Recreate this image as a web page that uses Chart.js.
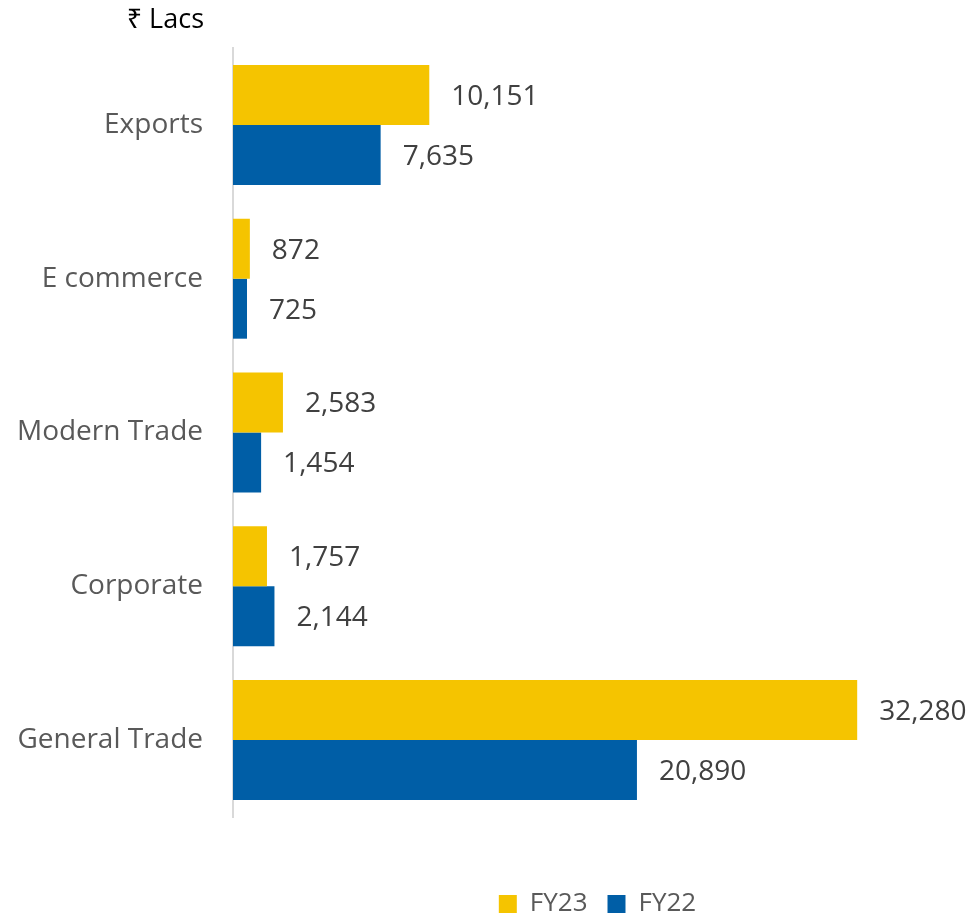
<!DOCTYPE html>
<html>
<head>
<meta charset="utf-8">
<script src="https://cdn.jsdelivr.net/npm/chart.js@4.4.0/dist/chart.umd.min.js"></script>
<style>
  body { margin: 0; background: #fff; }
  #wrap { width: 972px; height: 915px; position: relative; }
</style>
</head>
<body>
<div id="wrap"><canvas id="chart1"></canvas></div>
<script>
// channels, sales in Rs lacs
var channels = ["Exports", "E commerce", "Modern Trade", "Corporate", "General Trade"];
var fy23 = [10151, 872, 2583, 1757, 32280];
var fy22 = [7635, 725, 1454, 2144, 20890];
var unitLabel = "₹ Lacs";

var FONT = "'Open Sans', 'Noto Sans', sans-serif";

// value labels at the end of every bar
var valueLabels = {
    id: "valueLabels",
    afterDatasetsDraw: function(chart){
        var ctx = chart.ctx;
        ctx.save();
        ctx.font = "28px " + FONT;
        ctx.fillStyle = "#404040";
        ctx.textAlign = "left";
        ctx.textBaseline = "middle";
        chart.data.datasets.forEach(function(ds, i){
            var meta = chart.getDatasetMeta(i);
            meta.data.forEach(function(bar, j){
                ctx.fillText(ds.data[j].toLocaleString("en-US"), bar.x + 22, bar.y + 2);
            });
        });
        ctx.restore();
    }
};

// unit text above the axis
var unitText = {
    id: "unitText",
    afterDraw: function(chart){
        var ctx = chart.ctx;
        ctx.save();
        ctx.font = "27px " + FONT;
        ctx.fillStyle = "#000";
        ctx.textAlign = "right";
        ctx.textBaseline = "middle";
        ctx.fillText(unitLabel, chart.chartArea.left - 29, 20);
        ctx.restore();
    }
};

var myChart = document.getElementById("chart1").getContext("2d");
var chart = new Chart(myChart, {
    type: "bar",
    data: {
        labels: channels,
        datasets: [
            { label: "FY23", data: fy23, backgroundColor: "#F5C400" },
            { label: "FY22", data: fy22, backgroundColor: "#005EA6" }
        ]
    },
    options: {
        indexAxis: "y",
        responsive: true,
        maintainAspectRatio: false,
        animation: false,
        categoryPercentage: 0.78,
        barPercentage: 1,
        layout: { padding: { top: 48, right: 10, bottom: -12, left: 0 } },
        scales: {
            x: {
                min: 0,
                max: 37700,
                grid: { display: false },
                border: { display: false },
                ticks: { display: false },
                afterFit: function(scale){ scale.height = 54; }
            },
            y: {
                grid: { display: false, drawTicks: false },
                border: { display: true, color: "#d9d9d9", width: 2 },
                ticks: {
                    color: "#595959",
                    padding: 30,
                    font: { family: FONT, size: 28 }
                },
                afterFit: function(scale){ scale.width = 233; }
            }
        },
        plugins: {
            legend: {
                position: "bottom",
                fullSize: false,
                labels: {
                    boxWidth: 18,
                    boxHeight: 18,
                    padding: 20,
                    color: "#595959",
                    font: { family: FONT, size: 26 }
                }
            },
            tooltip: { enabled: false }
        }
    },
    plugins: [valueLabels, unitText]
});
</script>
</body>
</html>
